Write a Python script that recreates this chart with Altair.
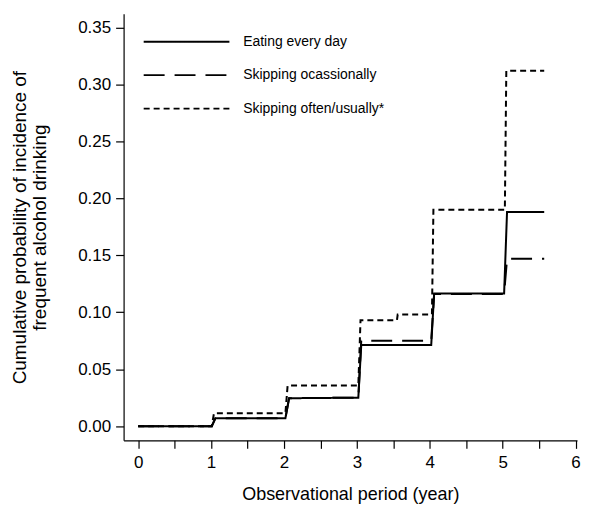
import altair as alt
import pandas as pd

groups = ["Eating every day", "Skipping ocassionally", "Skipping often/usually*"]

# (time, cumulative probability) points for each group
t_every = [0, 1.01, 1.06, 2.02, 2.07, 3.02, 3.06, 4.02, 4.06, 5.02, 5.06, 5.57]
v_every = [0, 0, 0.007, 0.007, 0.0245, 0.025, 0.0712, 0.0712, 0.1164, 0.1164, 0.188, 0.188]

t_occ = [0, 1.01, 1.06, 2.02, 2.07, 3.02, 3.06, 4.02, 4.06, 5.02, 5.06, 5.57]
v_occ = [0, 0, 0.007, 0.007, 0.0245, 0.025, 0.075, 0.075, 0.116, 0.116, 0.147, 0.147]

t_often = [0, 1.01, 1.04, 2.02, 2.05, 3.02, 3.05, 3.55, 3.56, 4.03, 4.05, 5.03, 5.05, 5.57]
v_often = [0, 0, 0.0114, 0.0114, 0.0356, 0.0356, 0.093, 0.093, 0.098, 0.098, 0.190, 0.190, 0.312, 0.312]

x_ticks = [0, 0.5, 1, 1.5, 2, 2.5, 3, 3.5, 4, 4.5, 5, 5.5, 6]
y_ticks = [0, 0.05, 0.10, 0.15, 0.20, 0.25, 0.30, 0.35]

rows = []
for g, ts, vs in zip(groups, [t_every, t_occ, t_often], [v_every, v_occ, v_often]):
    for i, (t, v) in enumerate(zip(ts, vs)):
        rows.append({"group": g, "time": t, "prob": v, "order": i})
df = pd.DataFrame(rows)

chart = alt.Chart(df).mark_line(strokeWidth=2, color="black").encode(
    x=alt.X("time:Q",
            scale=alt.Scale(domain=[-0.2, 6.02], nice=False, zero=False),
            axis=alt.Axis(values=x_ticks, title="Observational period (year)",
                          labelExpr="datum.value % 1 === 0 ? format(datum.value, 'd') : ''",
                          grid=False, tickSize=8, labelPadding=6, titlePadding=15,
                          titleFontSize=18)),
    y=alt.Y("prob:Q",
            scale=alt.Scale(domain=[-0.0125, 0.362], nice=False, zero=False),
            axis=alt.Axis(values=y_ticks, format=".2f",
                          title=["Cumulative probability of incidence of", "frequent alcohol drinking"],
                          grid=False, tickSize=8, labelPadding=5, titlePadding=28,
                          titleFontSize=19, titleLineHeight=20)),
    strokeDash=alt.StrokeDash("group:N",
        scale=alt.Scale(domain=groups, range=[[1, 0], [21, 10], [6, 4]]),
        legend=alt.Legend(title=None, orient="none", legendX=19, legendY=12.5,
                          symbolType="M-1,0H5", symbolSize=822, symbolStrokeWidth=1.8,
                          symbolStrokeColor="black", labelFontSize=14, labelOffset=70,
                          labelFont="Liberation Sans", rowPadding=10.5, padding=0)),
    order="order:Q",
).properties(
    width=455, height=428,
    padding={"left": 2, "top": 5, "right": 0, "bottom": 5},
).configure_view(stroke=None).configure_axis(
    domainColor="black", tickColor="black", labelColor="black", titleColor="black",
    labelFont="Liberation Sans", titleFont="Liberation Sans",
    labelFontSize=17, titleFontWeight="normal", domainWidth=1.2, tickWidth=1.2
)

chart.save("out.html", embed_options={"renderer": "svg", "actions": False})
